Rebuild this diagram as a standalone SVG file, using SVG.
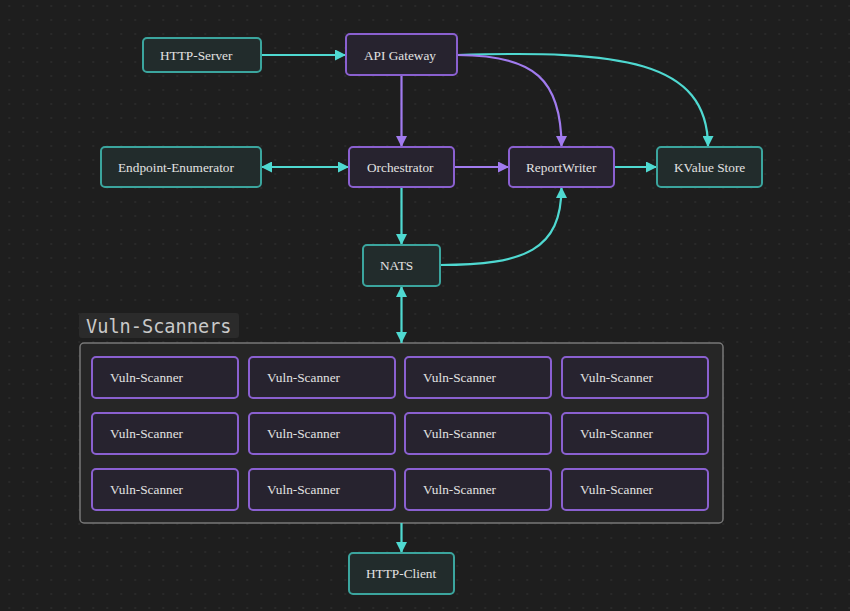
<svg xmlns="http://www.w3.org/2000/svg" width="850" height="611" viewBox="0 0 850 611">
<defs>
<pattern id="dots" x="8.3" y="5" width="14" height="14" patternUnits="userSpaceOnUse">
<circle cx="1" cy="1" r="0.9" fill="#2e2e2e"/>
</pattern>
<marker id="at" viewBox="0 0 10 10" refX="10" refY="5" markerWidth="11" markerHeight="11" markerUnits="userSpaceOnUse" orient="auto-start-reverse">
<path d="M0,0 L10,5 L0,10 Z" fill="#4fd9d1"/>
</marker>
<marker id="ap" viewBox="0 0 10 10" refX="10" refY="5" markerWidth="11" markerHeight="11" markerUnits="userSpaceOnUse" orient="auto-start-reverse">
<path d="M0,0 L10,5 L0,10 Z" fill="#a17bef"/>
</marker>
<style>
.t rect{fill:#222c2c;stroke:#3ba59e;stroke-width:2}
.p rect{fill:#27232f;stroke:#8a60d0;stroke-width:2}
.node text{font-family:"Liberation Serif","Times New Roman",serif;font-size:13.3px;fill:#e2e2e2;dominant-baseline:central}
.ct{fill:none;stroke:#4fd9d1;stroke-width:2.2}
.cp{fill:none;stroke:#a17bef;stroke-width:2.2}
</style>
</defs>
<rect width="850" height="611" fill="#1e1e1e"/>
<rect width="850" height="611" fill="url(#dots)"/>

<g id="vuln-scanners-group">
<rect x="80" y="343" width="643" height="180" rx="4" fill="#262626" stroke="#787878" stroke-width="1.5"/>
<rect x="79" y="313" width="160" height="25" rx="3" fill="#2b2b2b"/>
<text x="86" y="333" font-family="'DejaVu Sans Mono','Liberation Mono',monospace" font-size="18.6" fill="#c9c9c9">Vuln-Scanners</text>
</g>

<g id="connectors">
<path class="ct" d="M261,55 L346,55" marker-end="url(#at)"/>
<path class="cp" d="M401.5,75 L401.5,147" marker-end="url(#ap)"/>
<path class="ct" d="M261,167 L349,167" marker-start="url(#at)" marker-end="url(#at)"/>
<path class="cp" d="M454,167 L509,167" marker-end="url(#ap)"/>
<path class="ct" d="M614,167 L657,167" marker-end="url(#at)"/>
<path class="ct" d="M457,55 C620,50 708,60 708,147" marker-end="url(#at)"/>
<path class="cp" d="M457,55 C535,55 561.5,80 561.5,147" marker-end="url(#ap)"/>
<path class="ct" d="M401.5,187 L401.5,245" marker-end="url(#at)"/>
<path class="ct" d="M440,265 C525,265 561.5,250 561.5,187" marker-end="url(#at)"/>
<path class="ct" d="M401.5,286 L401.5,343" marker-start="url(#at)" marker-end="url(#at)"/>
<path class="ct" d="M401.5,523 L401.5,553" marker-end="url(#at)"/>
</g>

<g id="http-server" class="node t"><rect x="143" y="38" width="118" height="34" rx="4"/><text x="160" y="55">HTTP-Server</text></g>
<g id="api-gateway" class="node p"><rect x="346" y="34" width="111" height="41" rx="4"/><text x="364" y="55">API Gateway</text></g>
<g id="endpoint-enumerator" class="node t"><rect x="101" y="147" width="160" height="40" rx="4"/><text x="118" y="167">Endpoint-Enumerator</text></g>
<g id="orchestrator" class="node p"><rect x="349" y="147" width="105" height="40" rx="4"/><text x="367" y="167">Orchestrator</text></g>
<g id="reportwriter" class="node p"><rect x="509" y="147" width="105" height="40" rx="4"/><text x="526" y="167">ReportWriter</text></g>
<g id="kvalue-store" class="node t"><rect x="657" y="147" width="105" height="40" rx="4"/><text x="674" y="167">KValue Store</text></g>
<g id="nats" class="node t"><rect x="363" y="245" width="77" height="41" rx="4"/><text x="380" y="265.5">NATS</text></g>

<g id="vs-1-1" class="node p"><rect x="92" y="357" width="146" height="41" rx="4"/><text x="110" y="377.5">Vuln-Scanner</text></g>
<g id="vs-1-2" class="node p"><rect x="249" y="357" width="146" height="41" rx="4"/><text x="267" y="377.5">Vuln-Scanner</text></g>
<g id="vs-1-3" class="node p"><rect x="405" y="357" width="146" height="41" rx="4"/><text x="423" y="377.5">Vuln-Scanner</text></g>
<g id="vs-1-4" class="node p"><rect x="562" y="357" width="146" height="41" rx="4"/><text x="580" y="377.5">Vuln-Scanner</text></g>
<g id="vs-2-1" class="node p"><rect x="92" y="413" width="146" height="41" rx="4"/><text x="110" y="433.5">Vuln-Scanner</text></g>
<g id="vs-2-2" class="node p"><rect x="249" y="413" width="146" height="41" rx="4"/><text x="267" y="433.5">Vuln-Scanner</text></g>
<g id="vs-2-3" class="node p"><rect x="405" y="413" width="146" height="41" rx="4"/><text x="423" y="433.5">Vuln-Scanner</text></g>
<g id="vs-2-4" class="node p"><rect x="562" y="413" width="146" height="41" rx="4"/><text x="580" y="433.5">Vuln-Scanner</text></g>
<g id="vs-3-1" class="node p"><rect x="92" y="469" width="146" height="41" rx="4"/><text x="110" y="489.5">Vuln-Scanner</text></g>
<g id="vs-3-2" class="node p"><rect x="249" y="469" width="146" height="41" rx="4"/><text x="267" y="489.5">Vuln-Scanner</text></g>
<g id="vs-3-3" class="node p"><rect x="405" y="469" width="146" height="41" rx="4"/><text x="423" y="489.5">Vuln-Scanner</text></g>
<g id="vs-3-4" class="node p"><rect x="562" y="469" width="146" height="41" rx="4"/><text x="580" y="489.5">Vuln-Scanner</text></g>

<g id="http-client" class="node t"><rect x="349" y="553" width="105" height="41" rx="4"/><text x="366" y="573.5">HTTP-Client</text></g>
</svg>
